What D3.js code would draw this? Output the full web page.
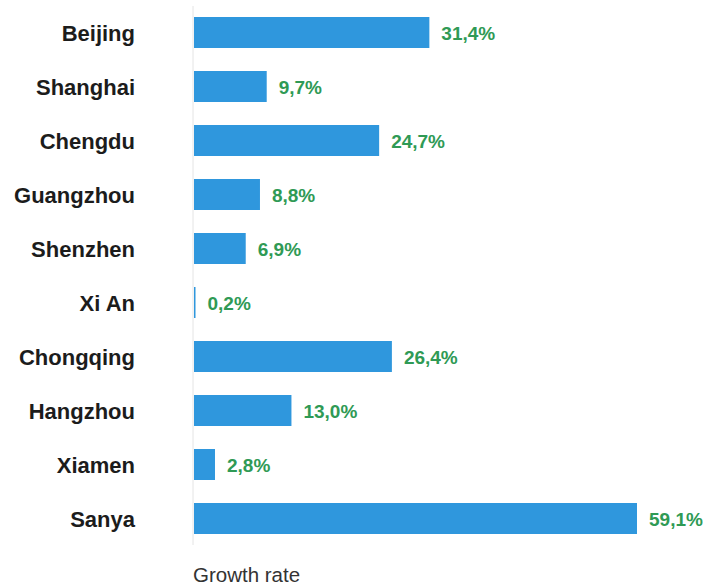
<!DOCTYPE html>
<html>
<head>
<meta charset="utf-8">
<script src="https://cdn.jsdelivr.net/npm/d3@7"></script>
<style>
  html, body { margin: 0; padding: 0; background: #fff; }
  svg { display: block; }
</style>
</head>
<body>
<svg id="chart" width="707" height="586"></svg>
<script>
// City growth rates (%)
const cities = ["Beijing", "Shanghai", "Chengdu", "Guangzhou", "Shenzhen", "Xi An", "Chongqing", "Hangzhou", "Xiamen", "Sanya"];
const growth = [31.4, 9.7, 24.7, 8.8, 6.9, 0.2, 26.4, 13.0, 2.8, 59.1];
const axisTitle = "Growth rate";

const svg = d3.select("#chart");
const x0 = 194;

const x = d3.scaleLinear().domain([0, 59.1]).range([x0, 637]);
const y = d3.scaleBand().domain(cities).range([0.8, 550.2]).paddingInner(0.426).paddingOuter(0.3);

const fmt = v => v.toFixed(1).replace(".", ",") + "%";
const font = "Liberation Sans, Arial, Helvetica, sans-serif";

// baseline
svg.append("line")
  .attr("x1", x0 - 1).attr("x2", x0 - 1)
  .attr("y1", 6).attr("y2", 545)
  .attr("stroke", "#e4e4e4").attr("stroke-width", 1);

const rows = cities.map((c, i) => ({ city: c, value: growth[i] }));

svg.selectAll("rect.bar").data(rows).enter().append("rect")
  .attr("class", "bar")
  .attr("x", x(0))
  .attr("y", d => y(d.city))
  .attr("width", d => Math.max(1.5, x(d.value) - x(0)))
  .attr("height", y.bandwidth())
  .attr("fill", "#2f97dd");

svg.selectAll("text.city").data(rows).enter().append("text")
  .attr("class", "city")
  .attr("x", 135)
  .attr("y", d => y(d.city) + y.bandwidth() / 2 + 0.5)
  .attr("dy", "0.35em")
  .attr("text-anchor", "end")
  .attr("font-family", font)
  .attr("font-weight", "bold")
  .attr("font-size", 22)
  .attr("fill", "#1c1c1c")
  .text(d => d.city);

svg.selectAll("text.val").data(rows).enter().append("text")
  .attr("class", "val")
  .attr("x", d => Math.max(x(d.value), x(0) + 1.5) + 12)
  .attr("y", d => y(d.city) + y.bandwidth() / 2 + 0.5)
  .attr("dy", "0.35em")
  .attr("font-family", font)
  .attr("font-weight", "bold")
  .attr("font-size", 19)
  .attr("fill", "#2f9a55")
  .text(d => fmt(d.value));

svg.append("text")
  .attr("x", 193)
  .attr("y", 582)
  .attr("font-family", font)
  .attr("font-size", 20.5)
  .attr("fill", "#333")
  .text(axisTitle);
</script>
</body>
</html>
